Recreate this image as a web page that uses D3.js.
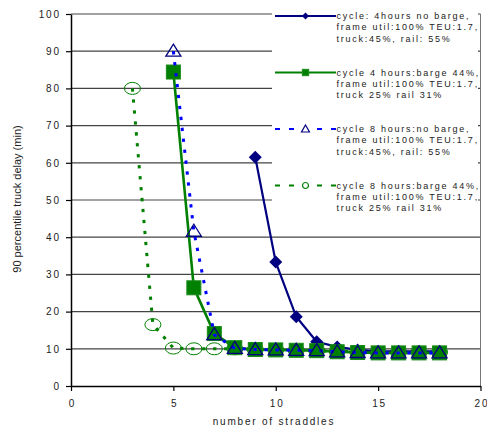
<!DOCTYPE html>
<html>
<head>
<meta charset="utf-8">
<script src="https://cdn.jsdelivr.net/npm/d3@7"></script>
<style>
  body { margin: 0; background: #fff; }
  text { font-family: "Liberation Sans", Arial, sans-serif; fill: #222; }
</style>
</head>
<body>
<div id="chart"></div>
<script>
// Data
const straddles4NoBarge = [9, 10, 11, 12, 13, 14, 15, 16, 17, 18];
const delay4NoBarge = [61.5, 33.3, 18.6, 11.9, 10.5, 9.7, 9.3, 9.3, 9.3, 9.3];

const straddles4Barge = [5, 6, 7, 8, 9, 10, 11, 12, 13, 14, 15, 16, 17, 18];
const delay4Barge = [84.4, 26.4, 14.1, 10.3, 9.8, 9.7, 9.6, 9.5, 9.2, 9.0, 8.9, 8.9, 8.9, 8.9];

const straddles8NoBarge = [5, 6, 7, 8, 9, 10, 11, 12, 13, 14, 15, 16, 17, 18];
const delay8NoBarge = [90, 41.6, 13.8, 10.1, 9.8, 9.7, 9.6, 9.5, 9.2, 9.0, 8.9, 8.9, 8.9, 8.9];

const straddles8Barge = [3, 4, 5, 6, 7, 8, 9, 10, 11, 12, 13, 14, 15, 16, 17, 18];
const delay8Barge = [80, 16.5, 10.2, 10, 10, 10, 9.8, 9.7, 9.6, 9.5, 9.3, 9.2, 9.1, 9.1, 9.1, 9.1];

const legendLabels = [
  ["cycle: 4hours no barge,", "frame util:100% TEU:1.7,", "truck:45%, rail: 55%"],
  ["cycle 4 hours:barge 44%,", "frame util:100% TEU:1.7,", "truck 25% rail 31%"],
  ["cycle 8 hours:no barge,", "frame util:100% TEU:1.7,", "truck:45%, rail: 55%"],
  ["cycle 8 hours:barge 44%,", "frame util:100% TEU:1.7,", "truck 25% rail 31%"]
];

const xTicks = [0, 5, 10, 15, 20];
const yTicks = [0, 10, 20, 30, 40, 50, 60, 70, 80, 90, 100];

const width = 487, height = 430;
const margin = { top: 14, right: 6.5, bottom: 44, left: 71 };
const chartWidth = width - margin.left - margin.right;
const chartHeight = height - margin.top - margin.bottom;

const svg = d3.select("#chart").append("svg")
  .attr("width", width)
  .attr("height", height);

const g = svg.append("g")
  .attr("transform", `translate(${margin.left},${margin.top})`);

// Scales
const x = d3.scaleLinear().domain([0, 20]).range([0, chartWidth]);
const y = d3.scaleLinear().domain([0, 100]).range([chartHeight, 0]);

// Gridlines
g.append("g")
  .selectAll("line")
  .data(yTicks.filter(d => d > 0))
  .enter().append("line")
  .attr("x1", 0).attr("x2", chartWidth)
  .attr("y1", d => y(d)).attr("y2", d => y(d))
  .attr("stroke", "#444")
  .attr("stroke-width", 1.2);

// Right border of plot area
g.append("line")
  .attr("x1", chartWidth).attr("x2", chartWidth)
  .attr("y1", 0).attr("y2", chartHeight)
  .attr("stroke", "#777")
  .attr("stroke-width", 1);

// Axes
const yAxis = g.append("g")
  .call(d3.axisLeft(y).tickValues(yTicks).tickSize(5).tickSizeOuter(0).tickPadding(7));
const xAxis = g.append("g")
  .attr("transform", `translate(0,${chartHeight})`)
  .call(d3.axisBottom(x).tickValues(xTicks).tickSize(5).tickSizeOuter(0).tickPadding(9));

[yAxis, xAxis].forEach(ax => {
  ax.select(".domain").attr("stroke", "#000").attr("stroke-width", 1.5);
  ax.selectAll(".tick line").attr("stroke", "#000").attr("stroke-width", 1.2);
  ax.selectAll(".tick text")
    .style("font-family", "'Liberation Sans', Arial, sans-serif")
    .style("font-size", "10px")
    .style("letter-spacing", "1.8px")
    .attr("fill", "#222");
});
yAxis.selectAll(".tick text").attr("dx", "1.8px");
xAxis.selectAll(".tick text").attr("dx", "0.9px");

// Series
const toPoints = (xs, ys) => xs.map((v, i) => ({ x: v, y: ys[i] }));
const line = d3.line().x(d => x(d.x)).y(d => y(d.y));

const series = [
  { pts: toPoints(straddles8Barge, delay8Barge), color: "#008000", width: 3, dash: "3.3,7.7", marker: "circle" },
  { pts: toPoints(straddles4NoBarge, delay4NoBarge), color: "#000080", width: 2.2, dash: null, marker: "diamond" },
  { pts: toPoints(straddles4Barge, delay4Barge), color: "#008000", width: 2.6, dash: null, marker: "square" },
  { pts: toPoints(straddles8NoBarge, delay8NoBarge), color: "#0000ff", width: 3, dash: "3.3,7.7", marker: "triangle" }
];

function drawMarker(sel, type, scale) {
  const s = scale || 1;
  if (type === "diamond") {
    sel.append("path")
      .attr("d", `M0,${-6.5 * s}L${6.5 * s},0L0,${6.5 * s}L${-6.5 * s},0Z`)
      .attr("fill", "#000080");
  } else if (type === "square") {
    sel.append("rect")
      .attr("x", -7 * s).attr("y", -7 * s)
      .attr("width", 14 * s).attr("height", 14 * s)
      .attr("fill", "#008000")
      .attr("stroke", "#1a8a1a")
      .attr("stroke-width", 1);
  } else if (type === "triangle") {
    sel.append("path")
      .attr("d", `M0,${-7 * s}L${7.5 * s},${5 * s}L${-7.5 * s},${5 * s}Z`)
      .attr("fill", "none")
      .attr("stroke", "#000080")
      .attr("stroke-width", 1.3);
  } else if (type === "circle") {
    sel.append("ellipse")
      .attr("rx", 8 * s).attr("ry", 6 * s)
      .attr("fill", "none")
      .attr("stroke", "#008000")
      .attr("stroke-width", 1);
  }
}

series.forEach(s => {
  g.append("path")
    .datum(s.pts)
    .attr("d", line)
    .attr("fill", "none")
    .attr("stroke", s.color)
    .attr("stroke-width", s.width)
    .attr("stroke-dasharray", s.dash);

  g.append("g").selectAll("g")
    .data(s.pts)
    .enter().append("g")
    .attr("transform", d => `translate(${x(d.x)},${y(d.y)})`)
    .each(function () { drawMarker(d3.select(this), s.marker, 1); });
});

// Legend
const legendOrder = [
  { color: "#000080", width: 2, dash: null, marker: "diamond" },
  { color: "#008000", width: 2, dash: null, marker: "square" },
  { color: "#0000ff", width: 2, dash: "5,9", marker: "triangle" },
  { color: "#008000", width: 2, dash: "5,9", marker: "circle" }
];
const legendRowY = [16, 72.5, 129, 185.5];

const legend = svg.append("g");
legend.append("rect")
  .attr("x", 272).attr("y", 0)
  .attr("width", 206).attr("height", 214)
  .attr("fill", "#fff");

legendOrder.forEach((s, i) => {
  const row = legend.append("g").attr("transform", `translate(0,${legendRowY[i]})`);
  row.append("line")
    .attr("x1", 275).attr("x2", 336)
    .attr("y1", 0).attr("y2", 0)
    .attr("stroke", s.color)
    .attr("stroke-width", s.width)
    .attr("stroke-dasharray", s.dash);
  const m = row.append("g").attr("transform", "translate(305.5,0)");
  if (s.marker === "circle") {
    m.append("circle").attr("r", 3).attr("fill", "#fff").attr("stroke", "#008000").attr("stroke-width", 1.2);
  } else if (s.marker === "triangle") {
    m.append("path").attr("d", "M0,-4L4,3L-4,3Z").attr("fill", "#fff").attr("stroke", "#000080").attr("stroke-width", 1.2);
  } else {
    drawMarker(m, s.marker, s.marker === "square" ? 0.45 : 0.55);
  }
  legendLabels[i].forEach((t, j) => {
    row.append("text")
      .attr("x", 336.5)
      .attr("y", 3 + j * 11.3)
      .style("font-size", "9px")
      .style("letter-spacing", "1.75px")
      .text(t);
  });
});

// Axis titles
svg.append("text")
  .attr("x", 274)
  .attr("y", 425)
  .attr("text-anchor", "middle")
  .style("font-size", "10px")
  .style("letter-spacing", "1.8px")
  .text("number of straddles");

svg.append("text")
  .attr("transform", "rotate(-90)")
  .attr("x", -199)
  .attr("y", 21)
  .attr("text-anchor", "middle")
  .style("font-size", "11px")
  .text("90 percentile truck delay (min)");
</script>
</body>
</html>
